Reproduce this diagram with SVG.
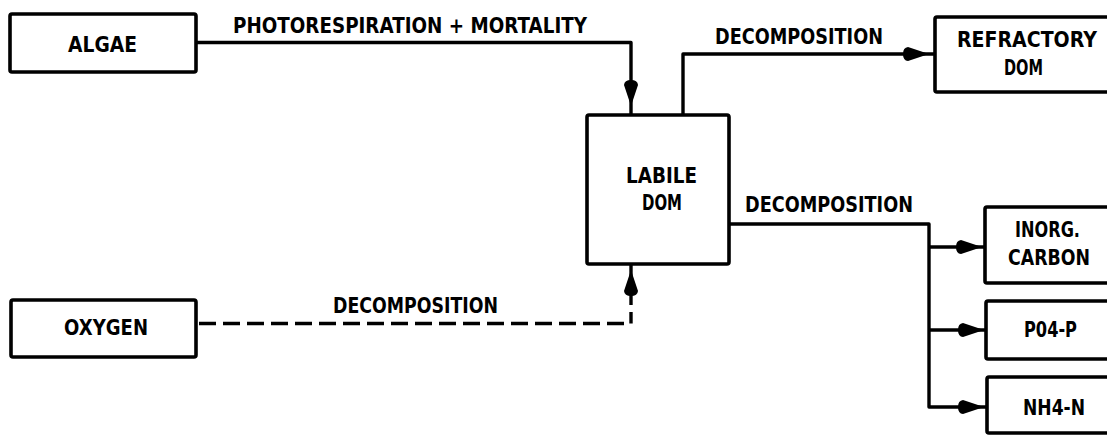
<svg xmlns="http://www.w3.org/2000/svg" width="1107" height="435" viewBox="0 0 1107 435">
<style>
.box{fill:#fff;stroke:#000;stroke-width:3.6;stroke-linejoin:round}
.ln{fill:none;stroke:#000;stroke-width:3.4;stroke-linejoin:round;stroke-linecap:butt}
.dash{stroke-dasharray:17 7}
text{font-family:'DejaVu Sans','Liberation Sans',sans-serif;font-weight:bold;font-size:20.5px;fill:#000}
</style>
<defs>
<path id="ah" d="M2,0 L-19,-7 Q-24,-6.5 -24,0 Q-24,6.5 -19,7 Z" fill="#000"/>
</defs>
<rect width="1107" height="435" fill="#fff"/>
<g id="connectors">
<path class="ln" d="M196,42.5 H631 V115"/>
<use href="#ah" transform="translate(631,104) rotate(90)"/>
<path class="ln" d="M683,115 V54 H935"/>
<use href="#ah" transform="translate(927,54)"/>
<path class="ln" d="M729,224 H929 V407 H987"/>
<path class="ln" d="M929,247 H985"/>
<path class="ln" d="M929,330 H986"/>
<use href="#ah" transform="translate(980,247)"/>
<use href="#ah" transform="translate(982,330)"/>
<use href="#ah" transform="translate(982,407)"/>
<path class="ln dash" d="M199,323.5 H631 V312"/>
<path class="ln" d="M631,305 V264"/>
<use href="#ah" transform="translate(631,272) rotate(-90)"/>
<text x="233" y="33" textLength="354" lengthAdjust="spacingAndGlyphs">PHOTORESPIRATION + MORTALITY</text>
<text x="715" y="44" textLength="168" lengthAdjust="spacingAndGlyphs">DECOMPOSITION</text>
<text x="745" y="212" textLength="168" lengthAdjust="spacingAndGlyphs">DECOMPOSITION</text>
<text x="333" y="313" textLength="165" lengthAdjust="spacingAndGlyphs">DECOMPOSITION</text>
</g>
<g id="algae">
<rect class="box" x="10" y="14" width="186" height="58" rx="2"/>
<text x="68" y="52" textLength="69" lengthAdjust="spacingAndGlyphs">ALGAE</text>
</g>
<g id="oxygen">
<rect class="box" x="11" y="300" width="185" height="57" rx="2"/>
<text x="64" y="335" textLength="84" lengthAdjust="spacingAndGlyphs">OXYGEN</text>
</g>
<g id="labile-dom">
<rect class="box" x="587" y="115" width="142" height="149" rx="2"/>
<text x="626" y="183" textLength="71" lengthAdjust="spacingAndGlyphs">LABILE</text>
<text x="642" y="210" textLength="40" lengthAdjust="spacingAndGlyphs">DOM</text>
</g>
<g id="refractory-dom">
<rect class="box" x="935" y="17" width="190" height="75" rx="2"/>
<text x="957" y="47" textLength="140" lengthAdjust="spacingAndGlyphs">REFRACTORY</text>
<text x="1004" y="75" textLength="39" lengthAdjust="spacingAndGlyphs">DOM</text>
</g>
<g id="inorg-carbon">
<rect class="box" x="985" y="207" width="140" height="76" rx="2"/>
<text x="1015" y="237" textLength="65" lengthAdjust="spacingAndGlyphs">INORG.</text>
<text x="1008" y="265" textLength="82" lengthAdjust="spacingAndGlyphs">CARBON</text>
</g>
<g id="po4-p">
<rect class="box" x="986" y="301" width="140" height="58" rx="2"/>
<text x="1024" y="337" textLength="53" lengthAdjust="spacingAndGlyphs">P04-P</text>
</g>
<g id="nh4-n">
<rect class="box" x="987" y="377" width="140" height="56" rx="2"/>
<text x="1023" y="415" textLength="62" lengthAdjust="spacingAndGlyphs">NH4-N</text>
</g>
</svg>
